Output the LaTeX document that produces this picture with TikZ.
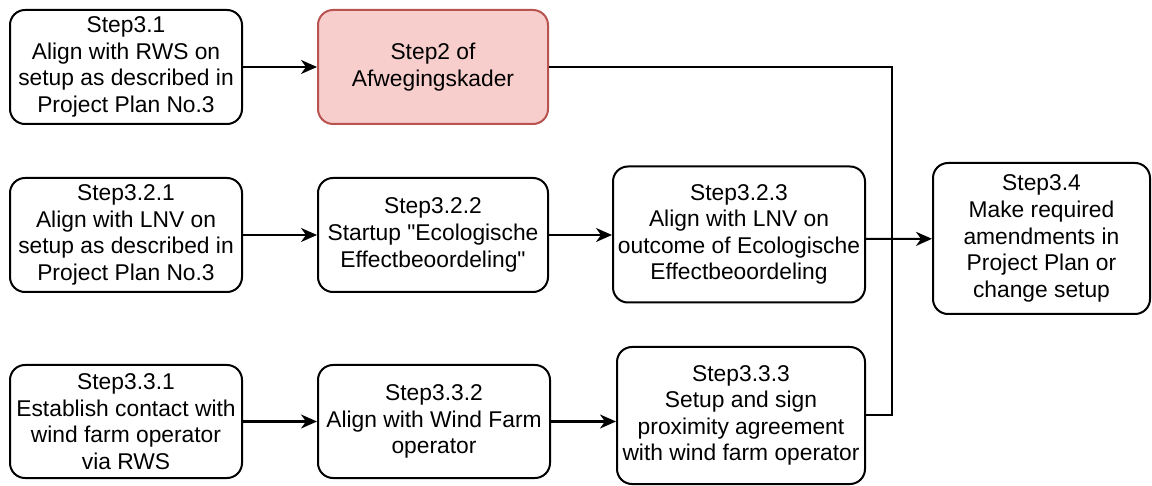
\documentclass[tikz,border=0pt]{standalone}
\usepackage{fontspec}
\setmainfont{Liberation Sans}
\usetikzlibrary{arrows.meta}
\definecolor{stepred}{HTML}{B85450}
\definecolor{stepfill}{HTML}{F8CECC}

\begin{document}
\begin{tikzpicture}[x=0.5pt, y=-0.5pt, line width=1pt,
  box/.style={draw, rounded corners=7.5pt, align=center, inner sep=1pt,
    font=\fontsize{11.4}{13.3}\selectfont},
  flow/.style={-{Stealth[length=8pt, width=7pt, inset=2.5pt]}}]
\useasboundingbox (0,0) rectangle (1152,486);
% top row
\node[box, minimum width=116pt, minimum height=57pt] (s31) at (126,67) {Step3.1\\Align with RWS on\\setup as described in\\Project Plan No.3};
\node[box, minimum width=115pt, minimum height=57pt, draw=stepred, fill=stepfill] (s2) at (433,67) {Step2 of\\Afwegingskader};
% middle row
\node[box, minimum width=116pt, minimum height=57pt] (s321) at (126,235) {Step3.2.1\\Align with LNV on\\setup as described in\\Project Plan No.3};
\node[box, minimum width=115pt, minimum height=57pt] (s322) at (433,235) {Step3.2.2\\Startup \textquotedbl Ecologische\\Effectbeoordeling\textquotedbl};
\node[box, minimum width=126pt, minimum height=68pt] (s323) at (739,234.5) {Step3.2.3\\Align with LNV on\\outcome of Ecologische\\Effectbeoordeling};
\node[box, minimum width=108.5pt, minimum height=75.5pt] (s34) at (1041.5,238.5) {Step3.4\\Make required\\amendments in\\Project Plan or\\change setup};
% bottom row
\node[box, minimum width=116pt, minimum height=56.5pt] (s331) at (126,421.5) {Step3.3.1\\Establish contact with\\wind farm operator\\via RWS};
\node[box, minimum width=116pt, minimum height=56.5pt] (s332) at (434,421.5) {Step3.3.2\\Align with Wind Farm\\operator};
\node[box, minimum width=124pt, minimum height=68.5pt] (s333) at (741,415.5) {Step3.3.3\\Setup and sign\\proximity agreement\\with wind farm operator};
\coordinate (j) at (892,239);

\draw[flow] (s31) -- (s2);
\draw[flow] (s321) -- (s322);
\draw[flow] (s322) -- (s322 -| s323.west);
\draw[flow] (s331) -- (s332);
\draw[flow] (s332) -- (s332 -| s333.west);
\draw (s2.east) -| (j);
\draw (s333.east) -| (j);
\draw[flow] (s323.east |- j) -- (s34);
\end{tikzpicture}
\end{document}
